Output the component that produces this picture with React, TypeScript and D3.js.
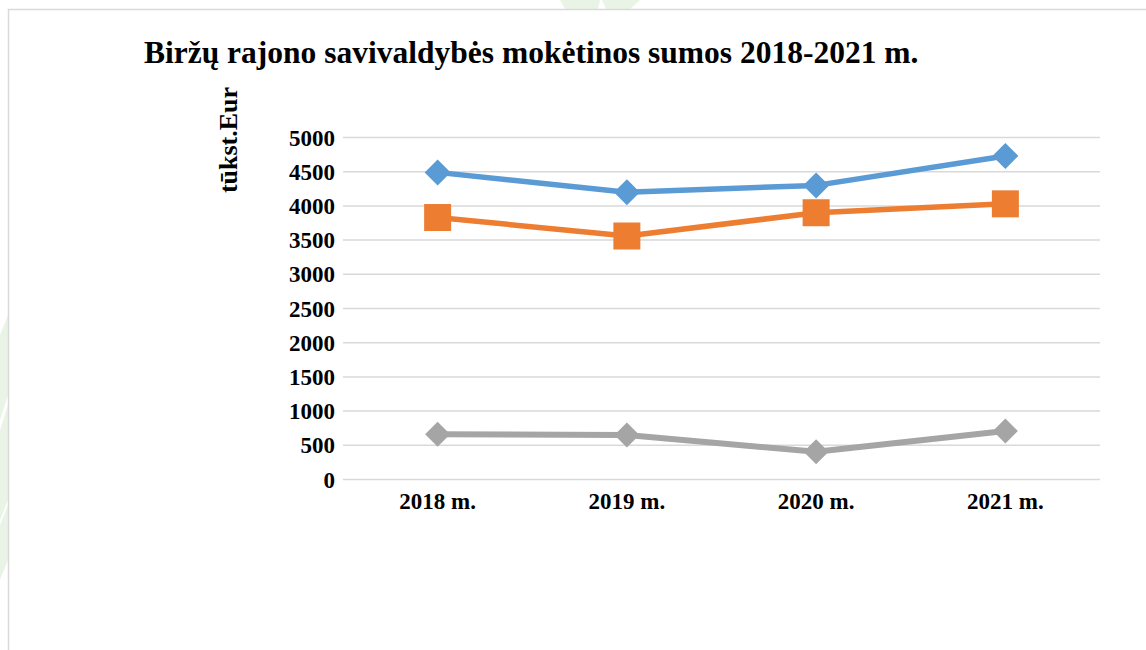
import React from 'react';
import * as d3 from 'd3';

// chart values
const years = ['2018 m.', '2019 m.', '2020 m.', '2021 m.'];
const seriesA = [4490, 4200, 4300, 4730]; // blue, diamonds
const seriesB = [3830, 3560, 3900, 4030]; // orange, squares
const seriesC = [660, 650, 405, 710]; // gray, diamonds
const yTicks = [0, 500, 1000, 1500, 2000, 2500, 3000, 3500, 4000, 4500, 5000];

const title = 'Biržų rajono savivaldybės mokėtinos sumos 2018-2021 m.';
const yLabel = 'tūkst.Eur';

const W = 1146;
const H = 650;
const plot = { left: 343, right: 1100, top: 137.5, bottom: 479.5 };
const font = '"Liberation Serif", "Times New Roman", serif';

const App = () => {
  const x = d3.scaleBand<string>()
    .domain(years)
    .range([plot.left, plot.right]);

  const y = d3.scaleLinear()
    .domain([0, 5000])
    .range([plot.bottom, plot.top]);

  const cx = (i: number) => (x(years[i]) as number) + x.bandwidth() / 2;

  const line = d3.line<number>()
    .x((d, i) => cx(i))
    .y(d => y(d));

  const series = [
    { values: seriesA, color: '#5b9bd5', marker: 'diamond', size: 26, width: 5.5 },
    { values: seriesB, color: '#ed7d31', marker: 'square', size: 27, width: 5.5 },
    { values: seriesC, color: '#a5a5a5', marker: 'diamond', size: 25, width: 6 },
  ];

  const marker = (m: string, size: number) => {
    const h = size / 2;
    if (m === 'square') {
      return `M${-h},${-h}H${h}V${h}H${-h}Z`;
    }
    return `M0,${-h}L${h},0L0,${h}L${-h},0Z`;
  };

  return (
    <svg width={W} height={H} style={{ position: 'absolute', left: 0, top: 0, background: '#fff' }}>
      {/* faint green decoration behind the frame */}
      <g fill="#e6f2e0" opacity={0.8}>
        <path d="M0,335 L8,315 L8,395 L0,420 Z" />
        <path d="M0,430 L8,405 L8,500 L0,520 Z" />
        <path d="M0,525 L8,505 L8,560 L0,580 Z" />
        <path d="M560,0 L600,0 L598,9 L565,9 Z" />
        <path d="M602,0 L640,0 L630,9 L606,9 Z" />
      </g>

      {/* chart frame */}
      <rect x={8.5} y={9.5} width={W + 10} height={H + 10} fill="none" stroke="#d9d9d9" strokeWidth={1.5} />

      <text x={144} y={63} fontFamily={font} fontWeight="bold" fontSize={31.5} fill="#000">
        {title}
      </text>

      <text
        transform={`translate(237,140) rotate(-90)`}
        textAnchor="middle"
        fontFamily={font}
        fontWeight="bold"
        fontSize={26}
        fill="#000"
      >
        {yLabel}
      </text>

      {/* grid and y ticks */}
      {yTicks.map(t => (
        <g key={t}>
          <line x1={plot.left} x2={plot.right} y1={y(t)} y2={y(t)} stroke="#d9d9d9" strokeWidth={1.5} />
          <text
            x={335}
            y={y(t)}
            dy="0.35em"
            textAnchor="end"
            fontFamily={font}
            fontWeight="bold"
            fontSize={23}
            fill="#000"
          >
            {t}
          </text>
        </g>
      ))}

      {/* x labels */}
      {years.map((c, i) => (
        <text
          key={c}
          x={cx(i)}
          y={509}
          textAnchor="middle"
          fontFamily={font}
          fontWeight="bold"
          fontSize={23}
          fill="#000"
        >
          {c}
        </text>
      ))}

      {/* lines and markers */}
      {series.map((s, si) => (
        <g key={si}>
          <path d={line(s.values) || ''} fill="none" stroke={s.color} strokeWidth={s.width} strokeLinejoin="round" />
          {s.values.map((v, i) => (
            <path
              key={i}
              transform={`translate(${cx(i)},${y(v)})`}
              d={marker(s.marker, s.size)}
              fill={s.color}
            />
          ))}
        </g>
      ))}
    </svg>
  );
};

export default App;
